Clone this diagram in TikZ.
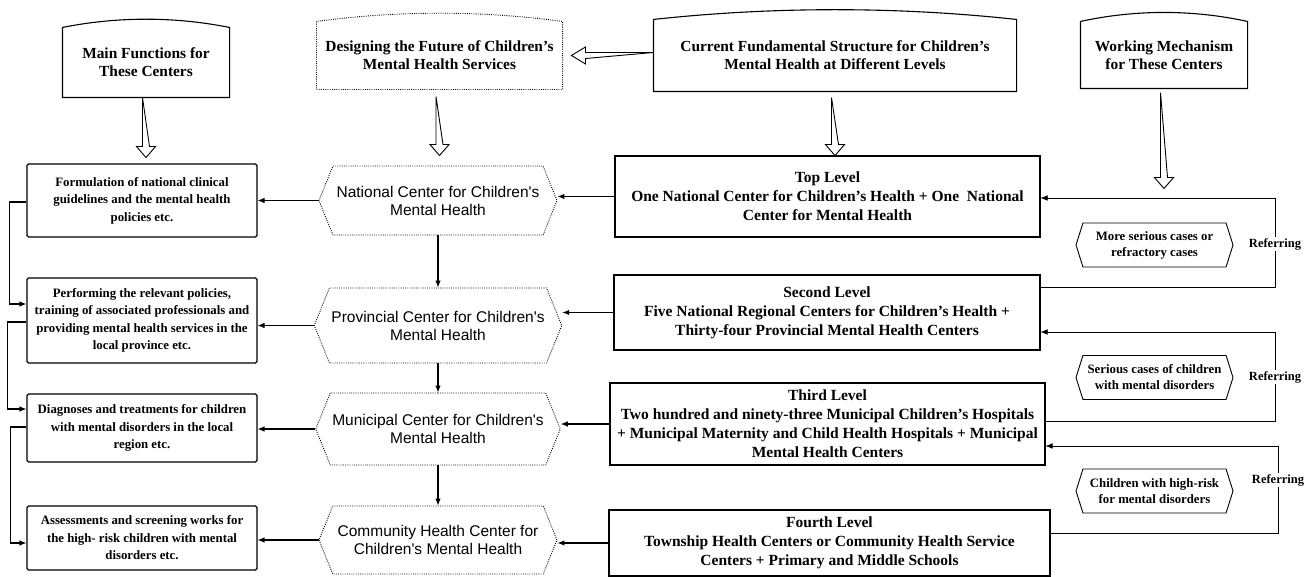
\documentclass[tikz,border=0pt]{standalone}
\usepackage{fontspec}
\setmainfont{Liberation Serif}
\newfontfamily\hexsans{Liberation Sans}
\usetikzlibrary{shapes.symbols,arrows.meta,calc,backgrounds}

% hollow block arrows: start point, shaft length
\newcommand{\hollowdown}[2]{%
  \draw[line width=0.9pt, fill=white] ($(#1)+(-3.5,0)$) -- ++(0,#2) -- ++(-6,0) -- ++(9.5,11) -- ++(9.5,-11) -- ++(-6,0) -- cycle;}
\newcommand{\hollowleft}[2]{%
  \draw[line width=0.9pt, fill=white] ($(#1)+(0,-3)$) -- ++(-#2,0) -- ++(0,-5.5) -- ++(-14,8.5) -- ++(14,8.5) -- ++(0,-5.5) -- cycle;}

\begin{document}
\begin{tikzpicture}[x=1pt, y=-1pt, line width=1.1pt, >={Latex[length=7pt,width=5.5pt]},
    header/.style={rectangle, inner sep=2pt, align=center, font=\fontsize{15.4}{18}\selectfont\bfseries},
    func/.style={rectangle, draw, rounded corners=1.5pt, minimum width=230pt, inner sep=2pt, align=center, font=\fontsize{12.8}{17.5}\selectfont\bfseries},
    centre/.style={signal, signal to=west and east, signal pointer angle=136, draw, dash pattern=on 0.9pt off 1.3pt, line width=0.9pt, minimum width=238pt, inner sep=2pt, align=center, font=\hexsans\fontsize{15.5}{18}\selectfont},
    level/.style={rectangle, draw, line width=1.2pt, inner sep=2pt, align=center, font=\fontsize{15.5}{19}\selectfont\bfseries},
    cases/.style={signal, signal to=west and east, signal pointer angle=145, draw, line width=0.9pt, minimum width=157pt, minimum height=44pt, inner sep=1pt, align=center, font=\fontsize{12.8}{16}\selectfont\bfseries},
    refer/.style={fill=white, inner sep=1pt, font=\fontsize{12.5}{15}\selectfont\bfseries},
    dots/.style={dash pattern=on 0.9pt off 1.3pt, line width=0.9pt},
]
    \useasboundingbox (0,0) rectangle (1316,577);

    % Header boxes
    \node[header, minimum width=166pt, minimum height=69pt] (mainfn) at (146,62.5) {Main Functions for\\These Centers};
    \node[header, minimum width=245pt, minimum height=67pt] (design) at (439.5,55.5) {Designing the Future of Children’s\\Mental Health Services};
    \node[header, minimum width=362pt, minimum height=71pt] (current) at (835,55.5) {Current Fundamental Structure for Children's\\Mental Health at Different Levels};
    \node[header, minimum width=166pt, minimum height=66pt] (working) at (1164,55) {Working Mechanism\\for These Centers};
    \foreach \n/\b/\s in {mainfn/11/solid, design/11/dots, current/13/solid, working/12/solid} {
        \draw[\s] (\n.north west) -- (\n.south west) -- (\n.south east) -- (\n.north east)
            .. controls ($(\n.north east)!0.33!(\n.north west)+(0,-\b)$) and ($(\n.north east)!0.67!(\n.north west)+(0,-\b)$) .. (\n.north west);
    }

    % Main functions
    \node[func, minimum height=73pt] (fn1) at (142,200.5) {Formulation of national clinical\\guidelines and the mental health\\policies etc.};
    \node[func, minimum height=85pt] (fn2) at (142,320.5) {Performing the relevant policies,\\training of associated professionals and\\providing mental health services in the\\local province etc.};
    \node[func, minimum height=68pt] (fn3) at (142,428) {Diagnoses and treatments for children\\with mental disorders in the local\\region etc.};
    \node[func, minimum height=64pt] (fn4) at (142,538) {Assessments and screening works for\\the high- risk children with mental\\disorders etc.};

    % Future centers
    \node[centre, minimum height=69pt] (h1) at (438,200.5) {National Center for Children's\\Mental Health};
    \node[centre, minimum height=75pt] (h2) at (438,325.5) {Provincial Center for Children's\\Mental Health};
    \node[centre, minimum height=72pt] (h3) at (438,429) {Municipal Center for Children's\\Mental Health};
    \node[centre, minimum height=68pt] (h4) at (438,540) {Community Health Center for\\Children's Mental Health};

    % Current levels
    \node[level, minimum width=425pt, minimum height=81pt] (lv1) at (827.5,196.5) {Top Level\\One National Center for Children's Health + One\ \ National\\Center for Mental Health};
    \node[level, minimum width=426pt, minimum height=75pt] (lv2) at (827,312.5) {Second Level\\Five National Regional Centers for Children’s Health +\\Thirty-four Provincial Mental Health Centers};
    \node[level, minimum width=435pt, minimum height=82pt] (lv3) at (827.5,424) {Third Level\\Two hundred and ninety-three Municipal Children's Hospitals\\+ Municipal Maternity and Child Health Hospitals + Municipal\\Mental Health Centers};
    \node[level, minimum width=441pt, minimum height=66pt] (lv4) at (829.5,543) {Fourth Level\\Township Health Centers or Community Health Service\\Centers + Primary and Middle Schools};

    % Referral cases
    \node[cases] (case1) at (1154.5,245) {More serious cases or\\refractory cases};
    \node[cases] (case2) at (1154.5,377.5) {Serious cases of children\\with mental disorders};
    \node[cases] (case3) at (1154.5,491) {Children with high-risk\\for mental disorders};
    \node[refer] (ref1) at (1275,244) {Referring};
    \node[refer] (ref2) at (1275,377) {Referring};
    \node[refer] (ref3) at (1278,480) {Referring};

    % Block arrows
    \hollowdown{mainfn.south}{49}
    \hollowdown{[yshift=-7pt]design.south}{48}
    \hollowdown{[yshift=-6pt]current.south}{47}
    \hollowdown{[yshift=-4pt]working.south}{85}
    \hollowleft{current.west}{68}

    % Arrows
    \foreach \i in {1,2,3,4} {
        \draw[->] (h\i.west) -- (h\i.west -| fn\i.east);
        \draw[->] (lv\i.west) -- (lv\i.west -| h\i.east);
    }
    \draw[->] (h1.south) -- (h2.north);
    \draw[->] (h2.south) -- (h3.north);
    \draw[->] (h3.south) -- (h4.north);
    \draw[->] ([yshift=-1.5pt]fn1.west) -- ++(-17,0) |- ([yshift=16.5pt]fn2.west);
    \draw[->] ([yshift=-1.5pt]fn2.west) -- ++(-19,0) |- ([yshift=19pt]fn3.west);
    \draw[->] ([yshift=1pt]fn3.west) -- ++(-16,0) |- ([yshift=-5pt]fn4.west);
    \begin{scope}[on background layer]
        \draw[->] ([yshift=25.5pt]lv2.east) -| (ref1.center) |- ([yshift=-1.5pt]lv1.east);
        \draw[->] ([yshift=3pt]lv3.east) -| (ref2.center) |- ([yshift=-19.5pt]lv2.east);
        \draw[->] ([yshift=10pt]lv4.east) -| (ref3.center) |- ([yshift=-22pt]lv3.east);
    \end{scope}
\end{tikzpicture}
\end{document}
